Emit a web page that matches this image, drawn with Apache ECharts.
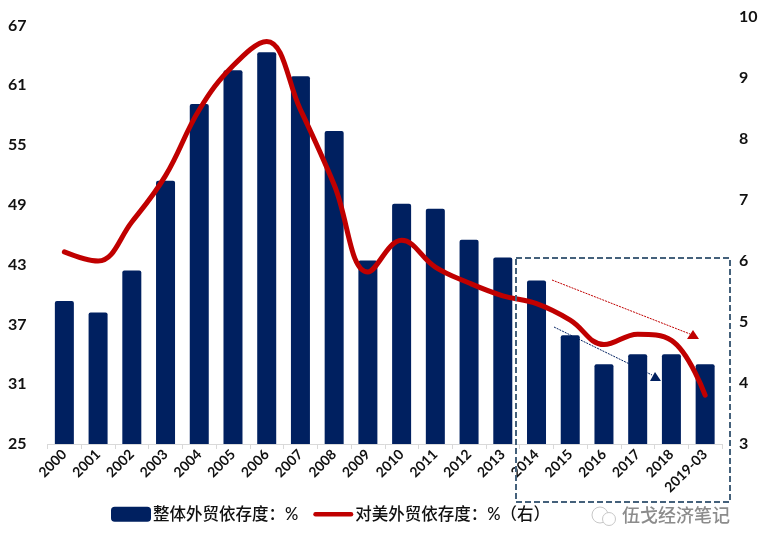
<!DOCTYPE html>
<html>
<head>
<meta charset="utf-8">
<style>html,body{margin:0;padding:0;background:#fff}#main{width:761px;height:550px}</style>
<script src="https://cdn.jsdelivr.net/npm/echarts@6/dist/echarts.min.js"></script>
</head>
<body>
<div id="main"></div>
<script>
var years = ['2000','2001','2002','2003','2004','2005','2006','2007','2008','2009','2010','2011','2012','2013','2014','2015','2016','2017','2018','2019-03'];
var overall = [39.35,38.2,42.4,51.4,59.1,62.5,64.3,61.9,56.4,43.4,49.1,48.6,45.5,43.7,41.4,35.9,33,34,34,33];
var toUS = [6.15,6.0,6.64,7.4,8.48,9.2,9.6,8.48,7.25,5.82,6.34,5.9,5.64,5.43,5.3,5.03,4.63,4.8,4.7,3.8];
var leftTicks = [25,31,37,43,49,55,61,67];
var nameOverall = '整体外贸依存度：%';
var nameUS = '对美外贸依存度：%（右）';

var latin = 'Lato, "Noto Sans CJK SC", sans-serif';
var cjk = 'Lato, "Noto Sans CJK SC", sans-serif';
var myChart = echarts.init(document.getElementById('main'), null, {renderer: 'canvas'});

var option = {
    animation: false,
    backgroundColor: '#fff',
    grid: {left: 47.5, right: 39, top: 17, bottom: 106},
    legend: {
        left: 106, top: 501,
        itemGap: 15, itemWidth: 40, itemHeight: 15,
        textStyle: {fontFamily: cjk, fontSize: 16.5, fontWeight: 500, color: '#111', padding: [0,0,0,-3]},
        data: [
            {name: nameOverall, icon: 'roundRect'},
            {name: nameUS, icon: 'path://M2,0 H98 A2,2 0 0 1 98,12 H2 A2,2 0 0 1 2,0 Z'}
        ]
    },
    xAxis: {
        type: 'category',
        data: years,
        axisLine: {lineStyle: {color: '#d9d9d9', width: 1}},
        axisTick: {show: true, alignWithLabel: false, length: 5, lineStyle: {color: '#d9d9d9'}},
        axisLabel: {rotate: 45, interval: 0, margin: 8, fontFamily: latin, fontWeight: 'bold', fontSize: 14, color: '#111'}
    },
    yAxis: [
        {
            type: 'value', min: 25, max: 67.84,
            splitLine: {show: false}, axisLine: {show: false}, axisTick: {show: false},
            axisLabel: {customValues: leftTicks, margin: 21, fontFamily: latin, fontWeight: 'bold', fontSize: 16, color: '#111'}
        },
        {
            type: 'value', min: 3, max: 10, interval: 1,
            splitLine: {show: false}, axisLine: {show: false}, axisTick: {show: false},
            axisLabel: {margin: 17, fontFamily: latin, fontWeight: 'bold', fontSize: 16, color: '#111'}
        }
    ],
    series: [
        {
            name: nameOverall, type: 'bar', data: overall, barWidth: 19,
            itemStyle: {color: '#002060', borderRadius: [2,2,0,0]}
        },
        {
            name: nameUS, type: 'line', yAxisIndex: 1, data: toUS,
            smooth: 0.4, showSymbol: false, symbol: 'none',
            lineStyle: {color: '#c00000', width: 5, cap: 'round'},
            itemStyle: {color: '#c00000'}
        }
    ],
    graphic: [
        // 虚线框
        {type: 'rect', z: 100, shape: {x: 516, y: 258, width: 214, height: 244},
            style: {fill: 'none', stroke: '#44617b', lineWidth: 2, lineDash: [6,3]}},
        // 红色箭头
        {type: 'line', z: 100, shape: {x1: 552, y1: 280, x2: 690, y2: 334},
            style: {stroke: '#c00000', lineWidth: 1, lineDash: [2,1]}},
        {type: 'polygon', z: 100, shape: {points: [[699,339],[687,339],[693,330]]}, style: {fill: '#c00000'}},
        // 蓝色箭头
        {type: 'line', z: 100, shape: {x1: 554, y1: 327, x2: 652, y2: 375},
            style: {stroke: '#002060', lineWidth: 1, lineDash: [2,1]}},
        {type: 'polygon', z: 100, shape: {points: [[661,381],[650,381],[655,372]]}, style: {fill: '#002060'}},
        // 水印
        {type: 'text', z: 100, left: 622, top: 506,
            style: {text: '伍戈经济笔记', fill: '#8c8c8c', font: '500 18px "Noto Sans CJK SC"'}},
        {type: 'circle', z: 100, shape: {cx: 600, cy: 515, r: 8}, style: {fill: '#fff', stroke: '#c8c8c8', lineWidth: 1}},
        {type: 'circle', z: 100, shape: {cx: 609, cy: 519, r: 6.5}, style: {fill: '#fff', stroke: '#c8c8c8', lineWidth: 1}}
    ]
};
myChart.setOption(option);
</script>
</body>
</html>
